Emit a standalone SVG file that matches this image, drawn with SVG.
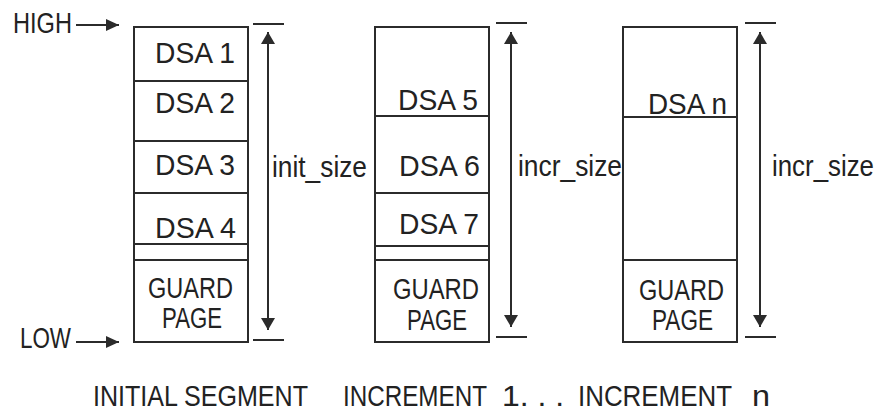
<svg xmlns="http://www.w3.org/2000/svg" width="879" height="410" viewBox="0 0 879 410">
<style>
  .box { fill: #fff; stroke: #2b2b2b; stroke-width: 2; }
  .ln { stroke: #2b2b2b; stroke-width: 2; fill: none; }
  .t { font-family: "Liberation Sans", Arial, sans-serif; font-size: 30px; fill: #222; }
</style>
<defs>
  <marker id="ah" viewBox="0 0 12 14" refX="12" refY="7" markerWidth="12" markerHeight="14" markerUnits="userSpaceOnUse" orient="auto-start-reverse">
    <path d="M0,0 L12,7 L0,14 z" fill="#2b2b2b"/>
  </marker>
  <marker id="ah2" viewBox="0 0 13 12" refX="13" refY="6" markerWidth="13" markerHeight="12" markerUnits="userSpaceOnUse" orient="auto">
    <path d="M0,0 L13,6 L0,12 z" fill="#2b2b2b"/>
  </marker>
</defs>

<g id="initial-segment">
  <rect class="box" x="134" y="27" width="114" height="315"/>
  <line class="ln" x1="134" y1="81" x2="248" y2="81"/>
  <line class="ln" x1="134" y1="141" x2="248" y2="141"/>
  <line class="ln" x1="134" y1="193" x2="248" y2="193"/>
  <line class="ln" x1="134" y1="244" x2="248" y2="244"/>
  <line class="ln" x1="134" y1="260" x2="248" y2="260"/>
  <text class="t" x="155" y="63" textLength="80" lengthAdjust="spacingAndGlyphs">DSA 1</text>
  <text class="t" x="155" y="113" textLength="80" lengthAdjust="spacingAndGlyphs">DSA 2</text>
  <text class="t" x="155" y="175" textLength="80" lengthAdjust="spacingAndGlyphs">DSA 3</text>
  <text class="t" x="155" y="238" textLength="81" lengthAdjust="spacingAndGlyphs">DSA 4</text>
  <text class="t" x="148" y="298" textLength="85" lengthAdjust="spacingAndGlyphs">GUARD</text>
  <text class="t" x="162" y="328" textLength="60" lengthAdjust="spacingAndGlyphs">PAGE</text>
</g>

<g id="increment-1">
  <rect class="box" x="375" y="27" width="114" height="315"/>
  <line class="ln" x1="375" y1="116" x2="489" y2="116"/>
  <line class="ln" x1="375" y1="193" x2="489" y2="193"/>
  <line class="ln" x1="375" y1="246" x2="489" y2="246"/>
  <line class="ln" x1="375" y1="260" x2="489" y2="260"/>
  <text class="t" x="398" y="110" textLength="80" lengthAdjust="spacingAndGlyphs">DSA 5</text>
  <text class="t" x="399" y="176" textLength="81" lengthAdjust="spacingAndGlyphs">DSA 6</text>
  <text class="t" x="399" y="234" textLength="80" lengthAdjust="spacingAndGlyphs">DSA 7</text>
  <text class="t" x="393" y="299" textLength="86" lengthAdjust="spacingAndGlyphs">GUARD</text>
  <text class="t" x="407" y="330" textLength="60" lengthAdjust="spacingAndGlyphs">PAGE</text>
</g>

<g id="increment-n">
  <rect class="box" x="623" y="27" width="114" height="315"/>
  <line class="ln" x1="623" y1="117" x2="737" y2="117"/>
  <line class="ln" x1="623" y1="260" x2="737" y2="260"/>
  <text class="t" x="648" y="114" textLength="79" lengthAdjust="spacingAndGlyphs">DSA n</text>
  <text class="t" x="639" y="300" textLength="85" lengthAdjust="spacingAndGlyphs">GUARD</text>
  <text class="t" x="652" y="330" textLength="61" lengthAdjust="spacingAndGlyphs">PAGE</text>
</g>

<g id="high-label">
  <text class="t" x="13" y="33" textLength="59" lengthAdjust="spacingAndGlyphs">HIGH</text>
</g>
<g id="low-label">
  <text class="t" x="20" y="348" textLength="51" lengthAdjust="spacingAndGlyphs">LOW</text>
</g>

<g id="dimension-labels">
  <text class="t" x="272" y="177" textLength="95" lengthAdjust="spacingAndGlyphs">init_size</text>
  <text class="t" x="518" y="176" textLength="104" lengthAdjust="spacingAndGlyphs">incr_size</text>
  <text class="t" x="772" y="176" textLength="102" lengthAdjust="spacingAndGlyphs">incr_size</text>
</g>

<g id="captions">
  <text class="t" x="93" y="406" textLength="215" lengthAdjust="spacingAndGlyphs">INITIAL SEGMENT</text>
  <text class="t"><tspan x="343" y="406" textLength="144" lengthAdjust="spacingAndGlyphs">INCREMENT</tspan><tspan x="502" y="406" textLength="62" lengthAdjust="spacingAndGlyphs">1. . .</tspan><tspan x="578" y="406" textLength="154" lengthAdjust="spacingAndGlyphs">INCREMENT</tspan><tspan x="752" y="406" textLength="18" lengthAdjust="spacingAndGlyphs">n</tspan></text>
</g>

<g id="connectors">
  <line class="ln" x1="76" y1="25" x2="119" y2="25" marker-end="url(#ah2)"/>
  <line class="ln" x1="76" y1="342" x2="119" y2="342" marker-end="url(#ah2)"/>

  <line class="ln" x1="253" y1="24" x2="284" y2="24"/>
  <line class="ln" x1="253" y1="340" x2="284" y2="340"/>
  <line class="ln" x1="268" y1="32" x2="268" y2="330" marker-start="url(#ah)" marker-end="url(#ah)"/>

  <line class="ln" x1="496" y1="23" x2="527" y2="23"/>
  <line class="ln" x1="496" y1="337" x2="527" y2="337"/>
  <line class="ln" x1="511" y1="32" x2="511" y2="327" marker-start="url(#ah)" marker-end="url(#ah)"/>

  <line class="ln" x1="745" y1="23" x2="776" y2="23"/>
  <line class="ln" x1="745" y1="337" x2="776" y2="337"/>
  <line class="ln" x1="760" y1="32" x2="760" y2="327" marker-start="url(#ah)" marker-end="url(#ah)"/>
</g>
</svg>
